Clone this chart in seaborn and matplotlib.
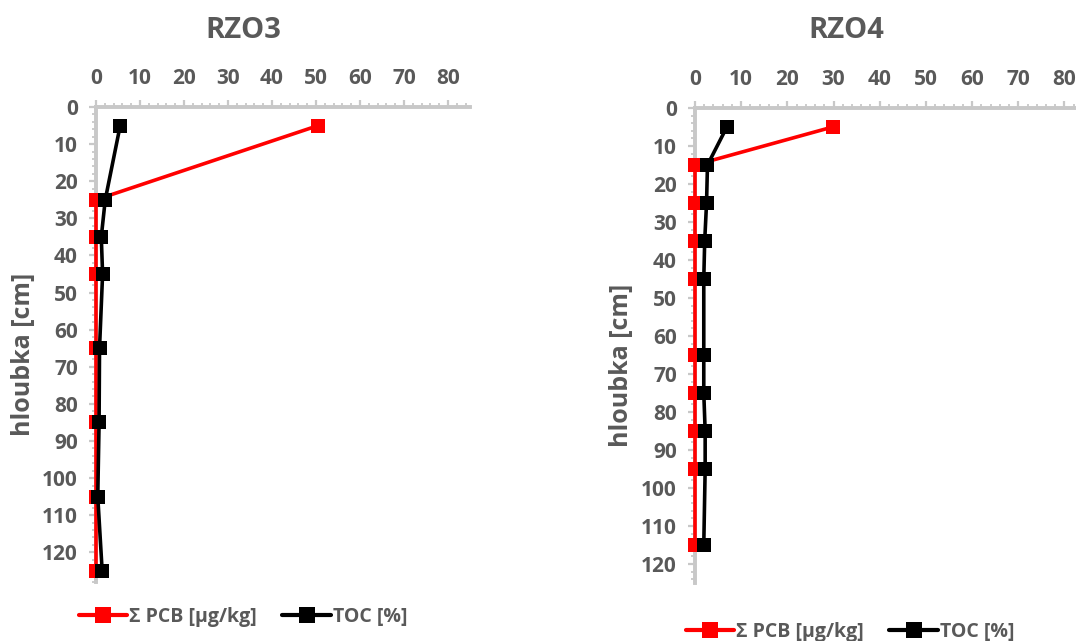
import matplotlib
matplotlib.use("Agg")
import matplotlib.pyplot as plt
import seaborn as sns
import pandas as pd
from matplotlib.ticker import MultipleLocator
from matplotlib.lines import Line2D

sns.set_theme(style="white")
plt.rcParams['font.family'] = ['Open Sans', 'DejaVu Sans']

# ---- data ----
depth_rzo3 = [5, 25, 35, 45, 65, 85, 105, 125]
pcb_rzo3 = [50.5, 0.0, 0.0, 0.0, 0.0, 0.0, 0.0, 0.0]
toc_rzo3 = [5.5, 2.1, 1.2, 1.5, 0.8, 0.7, 0.4, 1.4]

depth_rzo4 = [5, 15, 25, 35, 45, 65, 75, 85, 95, 115]
pcb_rzo4 = [29.8, 0.0, 0.0, 0.0, 0.0, 0.0, 0.0, 0.0, 0.0, 0.0]
toc_rzo4 = [6.9, 2.7, 2.5, 2.1, 1.9, 1.9, 1.9, 2.2, 2.2, 1.9]

titles = ["RZO3", "RZO4"]
series_labels = ["Σ PCB [µg/kg]", "TOC [%]"]
y_label = "hloubka [cm]"
x_ticks = [0, 10, 20, 30, 40, 50, 60, 70, 80]
y_ticks = [0, 10, 20, 30, 40, 50, 60, 70, 80, 90, 100, 110, 120]

RED = "#FF0000"
BLACK = "#000000"
GRAY_TXT = "#595959"
GRAY_AX = "#C8C8C8"

W, H = 1076, 641
fig = plt.figure(figsize=(W / 100, H / 100), dpi=100)


def px_rect(x0, x1, y0, y1):
    return [x0 / W, 1 - y1 / H, (x1 - x0) / W, (y1 - y0) / H]


ax1 = fig.add_axes(px_rect(96, 470, 107, 582))
ax2 = fig.add_axes(px_rect(695, 1076, 108, 583))

MS = 9.5
LW = 2.6


def draw(ax, depth, pcb, toc, xmax, ymax):
    df = pd.DataFrame({"depth": depth, "pcb": pcb, "toc": toc})
    sns.lineplot(data=df, x="pcb", y="depth", orient="y", sort=False, ax=ax,
                 color=RED, marker="s", markersize=MS, linewidth=LW,
                 markeredgewidth=0, clip_on=False, zorder=3)
    sns.lineplot(data=df, x="toc", y="depth", orient="y", sort=False, ax=ax,
                 color=BLACK, marker="s", markersize=MS, linewidth=LW,
                 markeredgewidth=0, clip_on=False, zorder=4)
    ax.set_xlim(0, xmax)
    ax.set_ylim(ymax, 0)
    ax.set_xticks(x_ticks)
    ax.set_yticks(y_ticks)
    ax.xaxis.set_minor_locator(MultipleLocator(2))
    ax.yaxis.set_minor_locator(MultipleLocator(2))
    ax.xaxis.tick_top()
    ax.set_xlabel("")
    ax.set_ylabel("")
    for s in ["bottom", "right"]:
        ax.spines[s].set_visible(False)
    for s in ["top", "left"]:
        ax.spines[s].set_color(GRAY_AX)
        ax.spines[s].set_linewidth(2.8)
    ax.tick_params(which="major", direction="out", length=5, width=1.6,
                   color=GRAY_AX, labelsize=15, labelcolor=GRAY_TXT, pad=8)
    ax.tick_params(which="minor", direction="out", length=3, width=1.3,
                   color=GRAY_AX)
    ax.tick_params(axis="x", which="both", top=True, bottom=False)
    ax.tick_params(axis="y", which="both", left=True, right=False)
    for lab in ax.get_xticklabels() + ax.get_yticklabels():
        lab.set_fontweight("bold")
    ax.set_facecolor("white")
    if ax.get_legend() is not None:
        ax.get_legend().remove()


draw(ax1, depth_rzo3, pcb_rzo3, toc_rzo3, 85, 128)
draw(ax2, depth_rzo4, pcb_rzo4, toc_rzo4, 82.5, 125)

# titles
fig.text(243 / W, 1 - 30 / H, titles[0], ha="center", va="center",
         fontsize=21, fontweight="bold", color=GRAY_TXT)
fig.text(846 / W, 1 - 30 / H, titles[1], ha="center", va="center",
         fontsize=21, fontweight="bold", color=GRAY_TXT)

# y labels
fig.text(23 / W, 1 - 354 / H, y_label, rotation=90, ha="center",
         va="center", fontsize=18, fontweight="bold", color=GRAY_TXT)
fig.text(621 / W, 1 - 365 / H, y_label, rotation=90, ha="center",
         va="center", fontsize=18, fontweight="bold", color=GRAY_TXT)

handles = [
    Line2D([], [], color=RED, marker="s", markersize=11, linewidth=LW + 0.4,
           markeredgewidth=0),
    Line2D([], [], color=BLACK, marker="s", markersize=11, linewidth=LW + 0.4,
           markeredgewidth=0),
]


def legend_at(xc, yc):
    leg = fig.legend(handles, series_labels, loc="center",
                     bbox_to_anchor=(xc / W, 1 - yc / H), ncol=2,
                     frameon=False, handlelength=2.5, handletextpad=0.1,
                     columnspacing=1.3,
                     prop={"weight": "bold", "size": 14,
                           "family": ["Open Sans", "DejaVu Sans"]})
    for t in leg.get_texts():
        t.set_color(GRAY_TXT)
    return leg


legend_at(243, 617)
legend_at(850, 632)

fig.savefig("out.png", dpi=100, facecolor="white")
